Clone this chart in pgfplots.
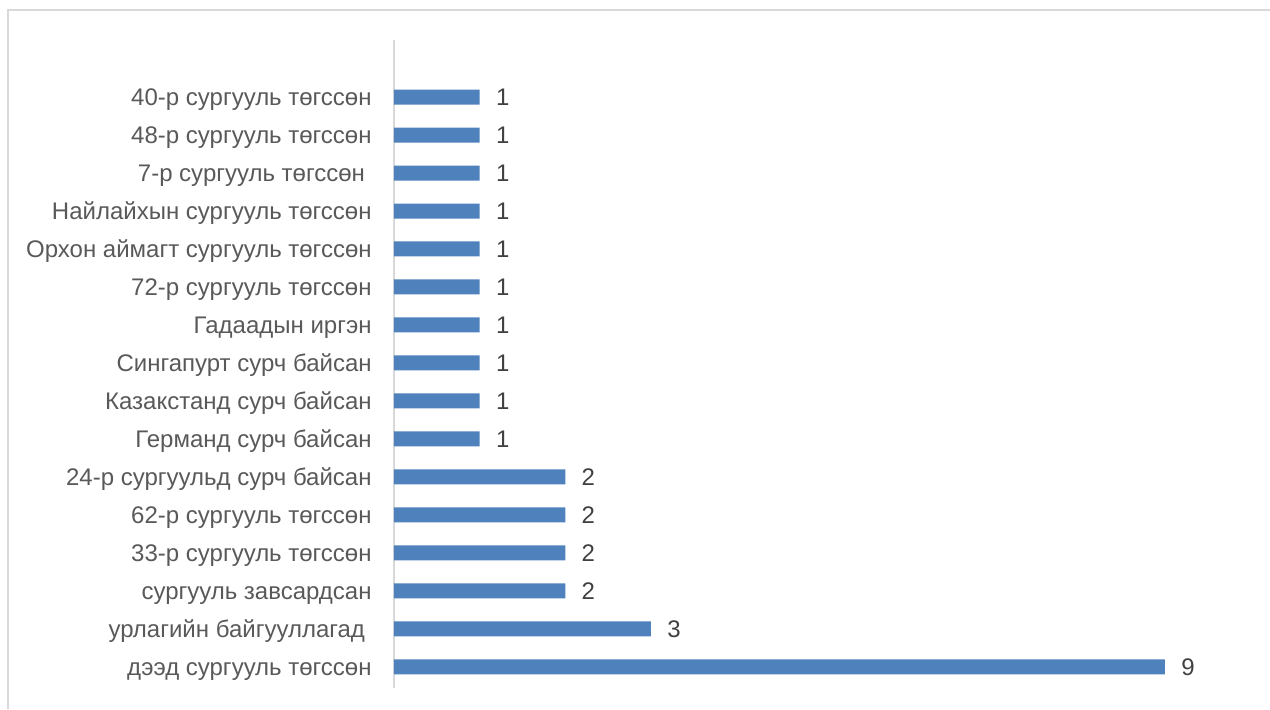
\documentclass[border=0pt]{standalone}
\usepackage{pgfplots}
\pgfplotsset{compat=1.18}
\usepackage{fontspec}
\setmainfont{Liberation Sans}
\definecolor{barblue}{HTML}{4F81BD}
\definecolor{labgray}{HTML}{595959}
\definecolor{valgray}{HTML}{404040}
\definecolor{framegray}{HTML}{D9D9D9}
\begin{document}
\begin{tikzpicture}
\useasboundingbox (0,0) rectangle (635pt,354.5pt);
\draw[framegray, line width=0.8pt] (4pt,0) -- (4pt,349.5pt) -- (635pt,349.5pt);
\begin{axis}[
  at={(197pt,10.5pt)}, anchor=south west,
  scale only axis, width=385.5pt, height=324pt,
  xbar, bar width=7.5pt,
  xmin=0, xmax=9,
  ymin=-0.553, ymax=16.5,
  axis x line=none,
  axis y line*=left,
  y axis line style={framegray, line width=0.8pt, -},
  major tick length=0pt,
  ytick={0,...,15},
  yticklabels={
    дээд сургууль төгссөн,
    урлагийн байгууллагад\kern.278em,
    сургууль завсардсан,
    33-р сургууль төгссөн,
    62-р сургууль төгссөн,
    24-р сургуульд сурч байсан,
    Германд сурч байсан,
    Казакстанд сурч байсан,
    Сингапурт сурч байсан,
    Гадаадын иргэн,
    72-р сургууль төгссөн,
    Орхон аймагт сургууль төгссөн,
    Найлайхын сургууль төгссөн,
    7-р сургууль төгссөн\kern.278em,
    48-р сургууль төгссөн,
    40-р сургууль төгссөн},
  yticklabel style={font=\fontsize{12pt}{14pt}\selectfont, color=labgray, inner sep=0pt, anchor=base east, xshift=-11pt, yshift=-4.2pt},
  nodes near coords,
  nodes near coords style={font=\fontsize{12pt}{14pt}\selectfont, color=valgray, anchor=base west, inner sep=0pt, xshift=8pt, yshift=-4.2pt, /pgf/number format/assume math mode=true},
  clip=false,
]
\addplot[fill=barblue, draw=none] coordinates {
  (9,0) (3,1) (2,2) (2,3) (2,4) (2,5) (1,6) (1,7) (1,8) (1,9) (1,10) (1,11) (1,12) (1,13) (1,14) (1,15)
};
\end{axis}
\end{tikzpicture}
\end{document}
